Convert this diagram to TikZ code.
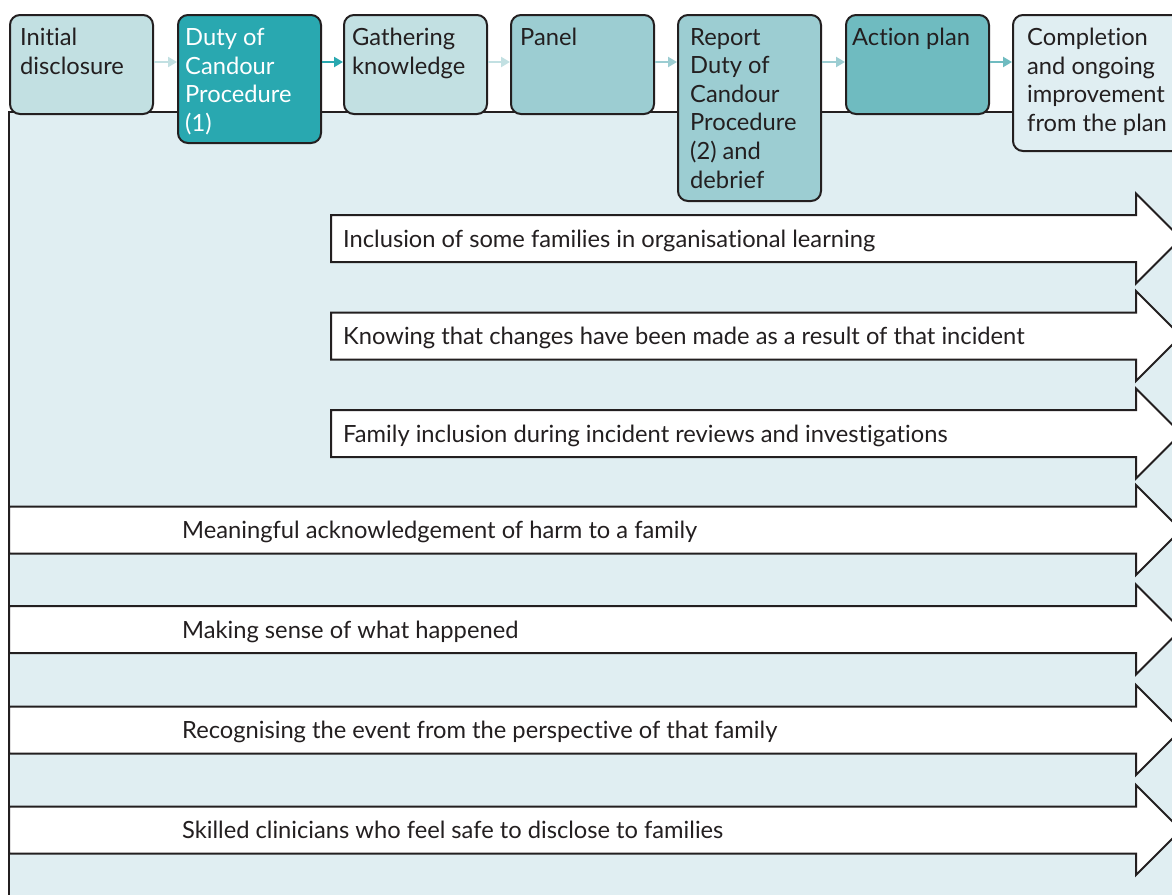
\documentclass[tikz,border=0pt]{standalone}
\usepackage{fontspec}
\setmainfont{Lato}[Ligatures=NoCommon]
\usetikzlibrary{arrows.meta}
\definecolor{tpale}{HTML}{C2E0E2}
\definecolor{tdark}{HTML}{29A8B0}
\definecolor{tmid}{HTML}{9CCDD2}
\definecolor{tdeep}{HTML}{6FBBC0}
\definecolor{panelbg}{HTML}{E0EEF2}
\definecolor{ink}{HTML}{231F20}
\begin{document}
\begin{tikzpicture}[x=1pt,y=-1pt,
 stage/.style={draw=ink, line width=2pt, rounded corners=10pt, anchor=north west, inner sep=0pt, minimum width=143pt},
 lbl/.style={anchor=north west, align=left, inner sep=0pt, font=\fontsize{23.7}{28.6}\selectfont, text=ink},
 blbl/.style={anchor=base west, inner sep=0pt, font=\fontsize{23.7}{28.6}\selectfont, text=ink},
 link/.style={line width=2pt, -{Triangle[length=9pt,width=10pt]}},
 band/.style={draw=ink, line width=2pt, fill=white, line join=miter},
]
\useasboundingbox (0,0) rectangle (1172,894);
\clip (0,0) rectangle (1172,894);
\fill[white] (0,0) rectangle (1172,894);
\draw[fill=panelbg, draw=ink, line width=2pt] (9,112) rectangle (1220,940);

% stage boxes
\node[stage, fill=tpale, minimum height=99pt] (b1) at (9,14) {};
\node[stage, fill=tdark, minimum height=128pt] (b2) at (177,14) {};
\node[stage, fill=tpale, minimum height=99pt] (b3) at (343,14) {};
\node[stage, fill=tmid, minimum height=99pt] (b4) at (510,14) {};
\node[stage, fill=tmid, minimum height=186pt] (b5) at (677,14) {};
\node[stage, fill=tdeep, minimum height=99pt] (b6) at (845,14) {};
\node[stage, fill=panelbg, minimum height=136pt, minimum width=200pt] (b7) at (1012,14) {};

\node[lbl] (t1) at (20,28) {Initial\\disclosure};
\node[lbl, text=white] (t2) at (185,28) {Duty of\\Candour\\Procedure\\(1)};
\node[lbl] (t3) at (352,28) {Gathering\\knowledge};
\node[lbl] (t4) at (520,28) {Panel};
\node[lbl] (t5) at (690,28) {Report\\Duty of\\Candour\\Procedure\\(2) and\\debrief};
\node[lbl] (t6) at (852,28) {Action plan};
\node[lbl] (t7) at (1027,28) {Completion\\and ongoing\\improvement\\from the plan};

% connectors
\draw[link, tpale] ([yshift=-48pt]b1.north east) -- ([yshift=-48pt]b2.north west);
\draw[link, tdark] ([yshift=-48pt]b2.north east) -- ([yshift=-48pt]b3.north west);
\draw[link, tpale] ([yshift=-48pt]b3.north east) -- ([yshift=-48pt]b4.north west);
\draw[link, tmid] ([yshift=-48pt]b4.north east) -- ([yshift=-48pt]b5.north west);
\draw[link, tmid] ([yshift=-48pt]b5.north east) -- ([yshift=-48pt]b6.north west);
\draw[link, tdeep] ([yshift=-48pt]b6.north east) -- ([yshift=-48pt]b7.north west);

% block arrows
\foreach \L/\c/\txt/\n in {
 331/238.5/Inclusion of some families in organisational learning/a1,
 331/336/Knowing that changes have been made as a result of that incident/a2,
 331/433.5/Family inclusion during incident reviews and investigations/a3,
 9/530/Meaningful acknowledgement of harm to a family/a4,
 9/629.5/Making sense of what happened/a5,
 9/730/Recognising the event from the perspective of that family/a6,
 9/830/Skilled clinicians who feel safe to disclose to families/a7}{
 \draw[band] (\L,{\c-23.5}) -- (1136,{\c-23.5}) -- (1136,{\c-45}) -- (1181,\c)
   -- (1136,{\c+45}) -- (1136,{\c+23.5}) -- (\L,{\c+23.5}) -- cycle;
 \pgfmathsetmacro{\tpos}{\L<100 ? 182 : 343}
 \node[blbl] (\n) at (\tpos,{\c+8.5}) {\txt};
}
\end{tikzpicture}
\end{document}
